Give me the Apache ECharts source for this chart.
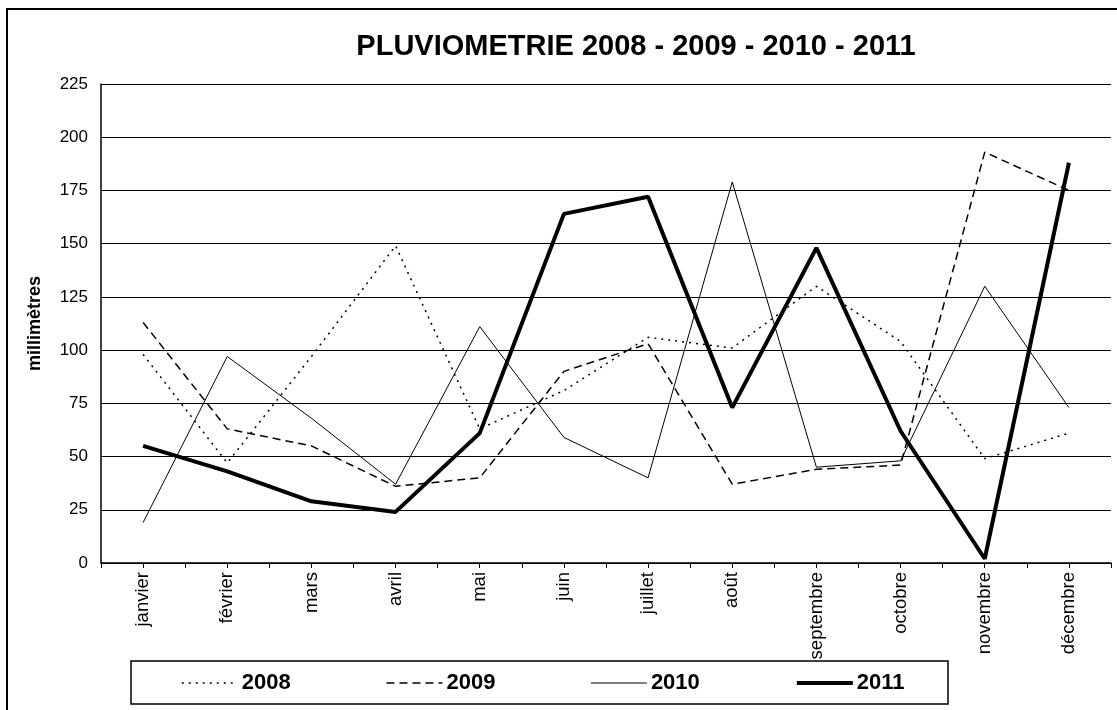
<!DOCTYPE html>
<html>
<head>
<meta charset="utf-8">
<script src="https://cdn.jsdelivr.net/npm/echarts@6/dist/echarts.min.js"></script>
<style>
html,body{margin:0;padding:0;background:#fff;}
#chart{width:1117px;height:710px;}
</style>
</head>
<body>
<div id="chart"></div>
<script>
var months = ['janvier','février','mars','avril','mai','juin','juillet','août','septembre','octobre','novembre','décembre'];
var yTicks = [0,25,50,75,100,125,150,175,200,225];
var s2008 = [98, 47, 97, 149, 63, 81, 106, 101, 130, 104, 49, 61];
var s2009 = [113, 63, 55, 36, 40, 90, 103, 37, 44, 46, 193, 175];
var s2010 = [19, 97, 68, 37, 111, 59, 40, 179, 45, 48, 130, 73];
var s2011 = [55, 43, 29, 24, 61, 164, 172, 73, 148, 62, 2, 188];
var titleText = 'PLUVIOMETRIE 2008 - 2009 - 2010 - 2011';
var yName = 'millimètres';

var FONT = 'Liberation Sans, Arial, sans-serif';
var styles = {
  '2008': {width: 1.5, type: [2, 5]},
  '2009': {width: 1.5, type: [8, 5]},
  '2010': {width: 1, type: 'solid'},
  '2011': {width: 4, type: 'solid'}
};
var chart = echarts.init(document.getElementById('chart'));
function mk(name, data) {
  return {
    name: name, type: 'line', data: data, xAxisIndex: 0, symbol: 'none',
    lineStyle: {color: '#000', width: styles[name].width, type: styles[name].type},
    itemStyle: {color: '#000'},
    animation: false
  };
}
var legendData = ['2008','2009','2010','2011'].map(function (n) {
  return {name: n, lineStyle: {color: '#000', width: styles[n].width, type: styles[n].type}};
});
chart.setOption({
  backgroundColor: '#fff',
  animation: false,
  graphic: [
    {type: 'rect', shape: {x: 7, y: 9, width: 1200, height: 800}, style: {fill: 'none', stroke: '#000', lineWidth: 2}, z: 0},
    {type: 'rect', shape: {x: 131, y: 661, width: 817, height: 43}, style: {fill: 'none', stroke: '#000', lineWidth: 1.5}, z: 0},
    {type: 'text', x: 636, y: 47, style: {text: titleText, font: 'bold 29px ' + FONT, fill: '#000', textAlign: 'center', textVerticalAlign: 'middle'}}
  ],
  legend: {
    left: 181, top: 672, padding: 0, itemWidth: 56, itemHeight: 14, itemGap: 95,
    itemStyle: {opacity: 0},
    textStyle: {fontFamily: FONT, fontWeight: 'bold', fontSize: 22, color: '#000', padding: [0, 0, 0, -1]},
    data: legendData
  },
  grid: {left: 101, right: 6, top: 84, bottom: 147, containLabel: false},
  xAxis: [{
    type: 'category', data: months, boundaryGap: true,
    axisLine: {show: true, lineStyle: {color: '#000', width: 1.5}},
    axisTick: {show: true, length: 5, lineStyle: {color: '#000', width: 1}},
    axisLabel: {rotate: 90, interval: 0, margin: 9, fontSize: 18.5, fontFamily: FONT, color: '#000'},
    splitLine: {show: false}
  }, {
    type: 'category', data: months, boundaryGap: true, position: 'bottom',
    axisLine: {show: false},
    axisTick: {show: true, alignWithLabel: true, length: 5, lineStyle: {color: '#000', width: 1}},
    axisLabel: {show: false},
    splitLine: {show: false}
  }],
  yAxis: {
    type: 'value', min: yTicks[0], max: yTicks[yTicks.length-1], interval: 25,
    name: yName, nameLocation: 'middle', nameGap: 57,
    nameTextStyle: {fontFamily: FONT, fontWeight: 'bold', fontSize: 18, color: '#000'},
    axisLine: {show: true, lineStyle: {color: '#000', width: 1.5}},
    axisTick: {show: false},
    axisLabel: {margin: 13, fontSize: 17, fontFamily: FONT, color: '#000'},
    splitLine: {show: true, lineStyle: {color: '#000', width: 1}}
  },
  series: [
    mk('2008', s2008),
    mk('2009', s2009),
    mk('2010', s2010),
    mk('2011', s2011)
  ]
});
</script>
</body>
</html>
